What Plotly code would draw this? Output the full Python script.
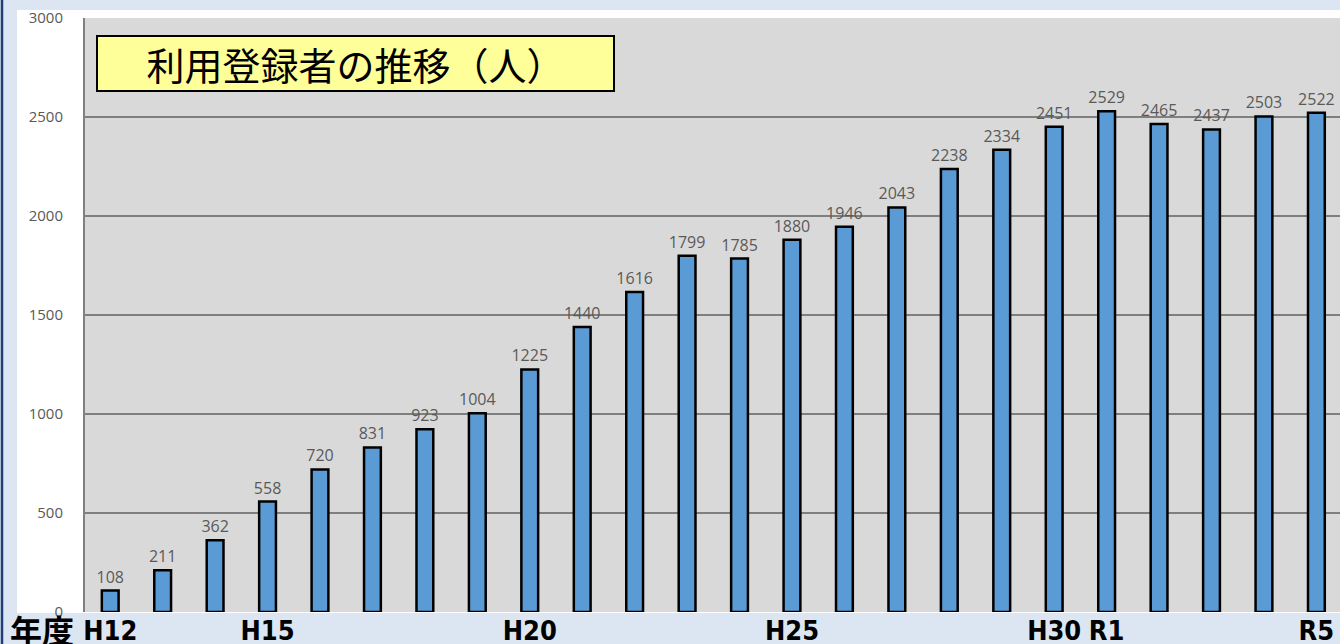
import plotly.graph_objects as go

years = ["H12","H13","H14","H15","H16","H17","H18","H19","H20","H21","H22","H23",
         "H24","H25","H26","H27","H28","H29","H30","R1","R2","R3","R4","R5"]
users = [108,211,362,558,720,831,923,1004,1225,1440,1616,1799,
         1785,1880,1946,2043,2238,2334,2451,2529,2465,2437,2503,2522]
tick_years = ["H12","H15","H20","H25","H30","R1","R5"]
y_ticks = [0,500,1000,1500,2000,2500,3000]
title_text = "利用登録者の推移（人）"
axis_word = "年度"

W, H = 1340, 644
L, T, B = 84, 18, 32
PW = W - L
PH = H - T - B

def px(x):
    return (x - L) / PW

def py(y):
    return (H - B - y) / PH

fig = go.Figure()
fig.add_trace(go.Bar(
    x=years, y=users,
    marker=dict(color="#5b9bd5", line=dict(color="#000000", width=2.5)),
    width=0.32,
    text=[str(v) for v in users], textposition="outside",
    textfont=dict(family="Open Sans", size=16, color="#595959"),
    constraintext="none",
    cliponaxis=False,
))

shapes = [
    dict(type="rect", xref="paper", yref="paper", x0=px(17), x1=1.05, y0=py(613), y1=py(10),
         fillcolor="#ffffff", line=dict(width=0), layer="below"),
    dict(type="rect", xref="paper", yref="paper", x0=0, x1=1.05, y0=0, y1=1,
         fillcolor="#d9d9d9", line=dict(width=0), layer="below"),
    dict(type="line", xref="paper", yref="paper", x0=px(2), x1=px(2), y0=py(644), y1=py(0),
         line=dict(color="#1f3f7a", width=2.5)),
    dict(type="line", xref="paper", yref="paper", x0=0, x1=0, y0=0, y1=1,
         line=dict(color="#808080", width=2)),
]

annotations = [
    dict(text=title_text, xref="paper", yref="paper", x=px(96), y=py(35),
         xanchor="left", yanchor="top", showarrow=False, width=515, height=53,
         bgcolor="#ffff99", bordercolor="#000000", borderwidth=2, borderpad=0,
         font=dict(family="Noto Sans CJK JP", size=38, color="#000000")),
    dict(text="<b>" + axis_word + "</b>", xref="paper", yref="paper", x=px(8), y=py(629),
         xanchor="left", yanchor="middle", showarrow=False,
         font=dict(family="Noto Sans CJK JP", size=32, color="#000000")),
]

fig.update_layout(
    width=W, height=H,
    margin=dict(l=L, r=0, t=T, b=B),
    paper_bgcolor="#dce6f2",
    plot_bgcolor="rgba(0,0,0,0)",
    showlegend=False,
    bargap=0.66,
    shapes=shapes,
    annotations=annotations,
    xaxis=dict(
        type="category", range=[-0.5, 23.45], automargin=False,
        tickmode="array", tickvals=tick_years, ticktext=tick_years, tickangle=0,
        tickfont=dict(family="Liberation Sans Narrow, DejaVu Sans Condensed, Noto Sans CJK JP",
                      size=27, color="#000000", weight="bold"),
        showgrid=False, showline=False, ticks="", zeroline=False,
        ticklabelstandoff=0,
    ),
    yaxis=dict(
        range=[0, 3000], tickmode="array", tickvals=y_ticks, automargin=False,
        tickfont=dict(family="Open Sans", size=15, color="#595959"),
        showgrid=True, gridcolor="#7f7f7f", gridwidth=1.5,
        zeroline=False, showline=False, ticks="",
        ticklabelstandoff=20,
    ),
)

fig.write_html("out.html")
